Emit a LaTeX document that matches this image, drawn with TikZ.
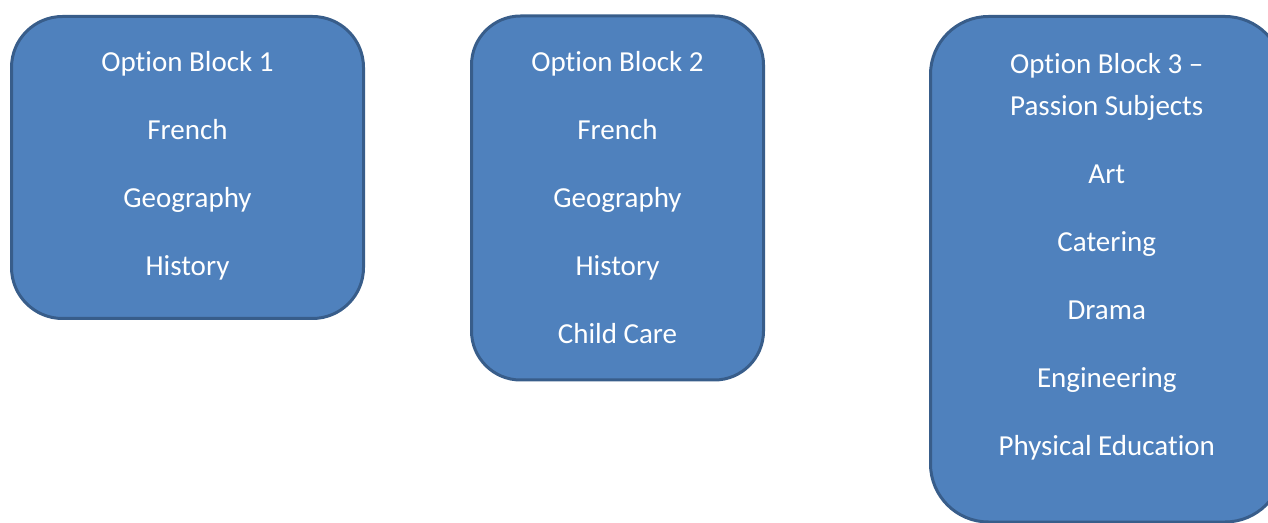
\documentclass[tikz,border=0pt]{standalone}
\usepackage{fontspec}
\setmainfont{Carlito}[Ligatures=NoCommon]
\usepackage{xcolor}
\usepackage{tikz}
\usetikzlibrary{positioning}
\definecolor{blockfill}{HTML}{4F81BD}
\definecolor{blockedge}{HTML}{385D8A}

\begin{document}
\begin{tikzpicture}[
  x=0.5pt, y=-0.5pt,
  block/.style={rectangle, draw=blockedge, fill=blockfill, line width=1.5pt, inner sep=0pt},
  subjects/.style={anchor=north, inner sep=0pt, align=center, text=white, font=\fontsize{14.5}{34}\selectfont}
]
\clip (0,0) rectangle (1268,523);
\node[block, rounded corners=25.5pt, minimum width=176pt, minimum height=151pt] (block1) at (187.5,167.5) {};
\node[block, rounded corners=24.5pt, minimum width=146pt, minimum height=182pt] (block2) at (617.5,198) {};
\node[block, rounded corners=29pt, minimum width=176.25pt, minimum height=252.75pt] (block3) at (1106.75,269.25) {};
\node[subjects, below=18pt of block1.north] (list1) {Option Block 1\\French\\Geography\\History};
\node[subjects, below=18pt of block2.north] (list2) {Option Block 2\\French\\Geography\\History\\Child Care};
\node[subjects, below=19pt of block3.north] (list3) {Option Block 3 --\\[-13pt]Passion Subjects\\Art\\Catering\\Drama\\Engineering\\Physical Education};
\end{tikzpicture}
\end{document}
